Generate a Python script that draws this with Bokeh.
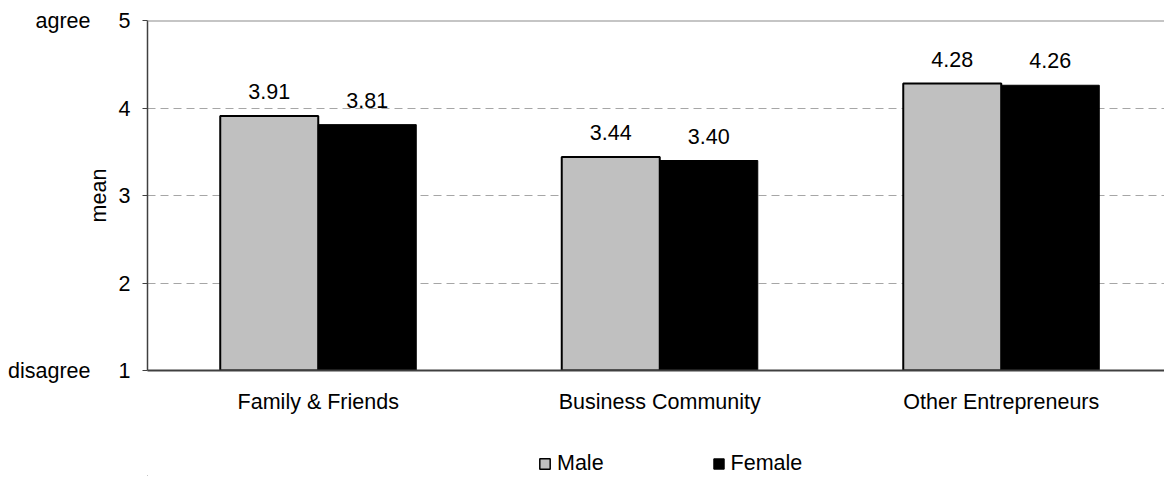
from bokeh.plotting import figure
from bokeh.layouts import column
from bokeh.models import (ColumnDataSource, FixedTicker, LinearAxis, Range1d, Span,
                          Legend, LegendItem)
from bokeh.core.properties import value
from bokeh.embed import file_html
from bokeh.resources import INLINE

categories = ["Family & Friends", "Business Community", "Other Entrepreneurs"]
male = [3.91, 3.44, 4.28]
female = [3.81, 3.40, 4.26]
series = ["Male", "Female"]
y_ticks = [1, 2, 3, 4, 5]
y_words = {1: "disagree", 5: "agree"}

FONT = "Liberation Sans"
FS = "21.5px"
MALE_FILL = "#C0C0C0"
FEMALE_FILL = "black"
W = 1164

centers = [i + 0.5 for i in range(len(categories))]
bw = 0.287

src_m = ColumnDataSource(dict(x=[c - bw / 2 for c in centers], top=male,
                              lab=["%.2f" % v for v in male]))
src_f = ColumnDataSource(dict(x=[c + bw / 2 for c in centers], top=female,
                              lab=["%.2f" % v for v in female]))

p = figure(width=W, height=420, output_backend="svg", toolbar_location=None,
           x_range=Range1d(0, 2.978), y_range=Range1d(1, 5),
           min_border_left=147, min_border_top=20, min_border_right=0,
           min_border_bottom=50, y_axis_location=None)
p.outline_line_color = None
p.background_fill_color = "white"
p.border_fill_color = "white"

p.vbar(x="x", top="top", bottom=1, width=bw, source=src_m,
       fill_color=MALE_FILL, line_color="black", line_width=2)
p.vbar(x="x", top="top", bottom=1, width=bw, source=src_f,
       fill_color=FEMALE_FILL, line_color="black", line_width=1)

for s in (src_m, src_f):
    p.text(x="x", y="top", text="lab", source=s, text_align="center",
           text_baseline="bottom", y_offset=-17, text_font=value(FONT),
           text_font_size=FS, text_color="black")

p.add_layout(Span(location=5, dimension="width", line_color="#8C8C8C", line_width=2))

# x axis
xa = p.xaxis[0]
xa.ticker = FixedTicker(ticks=centers)
xa.major_label_overrides = {c: n for c, n in zip(centers, categories)}
xa.major_tick_line_color = None
xa.minor_tick_line_color = None
xa.major_label_standoff = 13
xa.axis_line_color = "#404040"
xa.axis_line_width = 2
xa.major_label_text_font = FONT
xa.major_label_text_font_size = FS
xa.major_label_text_color = "black"

# y axis (numbers)
ya = LinearAxis(ticker=FixedTicker(ticks=y_ticks), axis_label="mean")
ya.minor_tick_line_color = None
ya.major_tick_out = 5
ya.major_tick_in = 0
ya.major_tick_line_color = "#404040"
ya.axis_line_color = "#404040"
ya.axis_line_width = 1.5
ya.major_label_standoff = 12
ya.major_label_text_font = FONT
ya.major_label_text_font_size = FS
ya.major_label_text_color = "black"
ya.axis_label_text_font = FONT
ya.axis_label_text_font_size = FS
ya.axis_label_text_font_style = "normal"
ya.axis_label_text_color = "black"
ya.axis_label_standoff = 5
p.add_layout(ya, "left")

# y axis (words)
yw = LinearAxis(ticker=FixedTicker(ticks=list(y_words.keys())))
yw.major_label_overrides = y_words
yw.axis_line_color = None
yw.major_tick_line_color = None
yw.minor_tick_line_color = None
yw.major_label_standoff = -13
yw.major_label_text_font = FONT
yw.major_label_text_font_size = FS
yw.major_label_text_color = "black"
p.add_layout(yw, "left")

p.xgrid.grid_line_color = None
p.ygrid.ticker = FixedTicker(ticks=[2, 3, 4])
p.ygrid.grid_line_color = "#A6A6A6"
p.ygrid.grid_line_dash = "8 5"
p.ygrid.grid_line_width = 1

# legend strip below the chart; its ranges keep its bars far out of view
lg = figure(width=W, height=56, output_backend="svg", toolbar_location=None,
            x_range=Range1d(100, 101), y_range=Range1d(100, 101),
            x_axis_location=None, y_axis_location=None,
            min_border_left=0, min_border_right=0, min_border_top=0, min_border_bottom=0)
lg.outline_line_color = None
lg.grid.visible = False
lg.background_fill_color = "white"
lg.border_fill_color = "white"
lm = lg.vbar(x="x", top="top", bottom=1, width=bw, source=src_m,
             fill_color=MALE_FILL, line_color="black", line_width=1.5)
lf = lg.vbar(x="x", top="top", bottom=1, width=bw, source=src_f,
             fill_color=FEMALE_FILL, line_color="black", line_width=1)

legend = Legend(items=[LegendItem(label=series[0], renderers=[lm]),
                       LegendItem(label=series[1], renderers=[lf])],
                orientation="horizontal", location=(391, 0),
                glyph_width=13, glyph_height=13, label_standoff=6, spacing=108,
                padding=0, margin=0, border_line_color=None,
                background_fill_alpha=0,
                label_text_font=FONT, label_text_font_size=FS,
                label_text_color="black")
lg.add_layout(legend, "center")

layout = column(p, lg, spacing=0)
open("out.html", "w").write(file_html(layout, INLINE))
